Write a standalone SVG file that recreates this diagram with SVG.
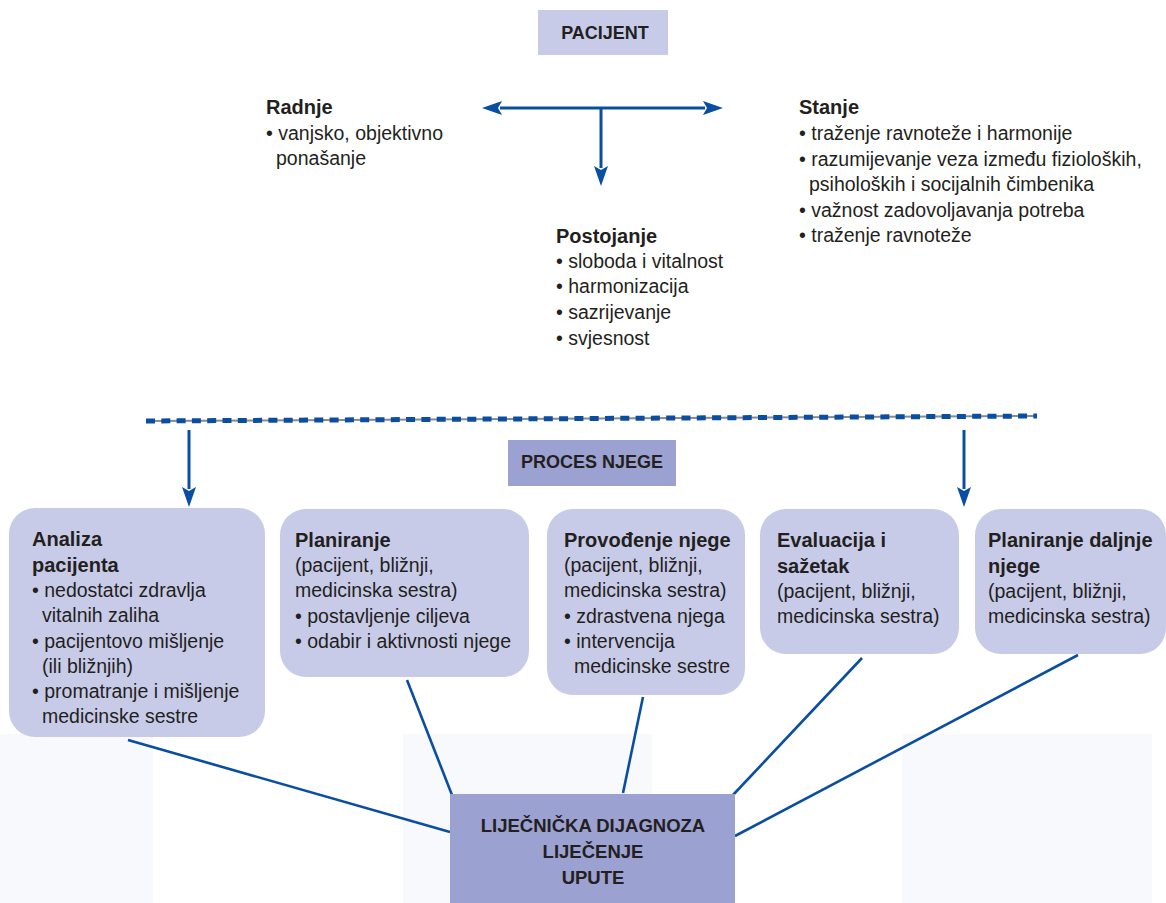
<svg xmlns="http://www.w3.org/2000/svg" width="1166" height="903" viewBox="0 0 1166 903">
<style>
  text { font-family: "Liberation Sans", Arial, sans-serif; fill: #231f20; }
  .t { font-size: 19.5px; }
  .b { font-size: 20px; font-weight: bold; }
  .h { font-size: 18px; font-weight: bold; text-anchor: middle; }
  .box { fill: #c8cbe8; }
  .dark { fill: #9ba1d1; }
  .faint { fill: #f8f9fc; }
  .arrow { stroke: #0a4ea2; stroke-width: 3; fill: none; }
  .conn { stroke: #0a4ea2; stroke-width: 2.6; fill: none; }
</style>
<defs>
  <marker id="ah" viewBox="0 0 20 14" refX="2" refY="7" markerWidth="20" markerHeight="14" markerUnits="userSpaceOnUse" orient="auto-start-reverse">
    <path d="M0,0 L20,7 L0,14 L4,7 Z" fill="#0a4ea2"/>
  </marker>
</defs>
<rect width="1166" height="903" fill="#ffffff"/>
<g id="background">
  <rect class="faint" x="0" y="734" width="153" height="169"/>
  <rect class="faint" x="403" y="734" width="249" height="169"/>
  <rect class="faint" x="902" y="734" width="250" height="169"/>
</g>
<g id="connectors">
  <line class="arrow" x1="500" y1="108" x2="705" y2="108" marker-start="url(#ah)" marker-end="url(#ah)"/>
  <line class="arrow" x1="601" y1="108" x2="601" y2="168" marker-end="url(#ah)"/>
  <line x1="146" y1="421" x2="1037" y2="416" stroke="#8a8a8a" stroke-width="2"/>
  <line x1="146" y1="421" x2="1037" y2="416" stroke="#0a4ea2" stroke-width="5" stroke-dasharray="9 6.3"/>
  <line class="arrow" x1="189" y1="430" x2="189" y2="489" marker-end="url(#ah)"/>
  <line class="arrow" x1="964" y1="430" x2="964" y2="489" marker-end="url(#ah)"/>
  <line class="conn" x1="128" y1="740" x2="450" y2="832"/>
  <line class="conn" x1="407" y1="680" x2="452" y2="795"/>
  <line class="conn" x1="643" y1="697" x2="623" y2="793"/>
  <line class="conn" x1="862" y1="658" x2="733" y2="795"/>
  <line class="conn" x1="1078" y1="655" x2="735" y2="836"/>
</g>
<g id="pacijent">
  <rect class="box" x="538" y="10" width="130" height="45"/>
  <text class="h" x="605" y="39">PACIJENT</text>
</g>
<g id="radnje">
  <text class="b" x="266" y="114">Radnje</text>
  <text class="t" x="266" y="140">• vanjsko, objektivno</text>
  <text class="t" x="276" y="165">ponašanje</text>
</g>
<g id="stanje">
  <text class="b" x="799" y="114">Stanje</text>
  <text class="t" x="799" y="140">• traženje ravnoteže i harmonije</text>
  <text class="t" x="799" y="166">• razumijevanje veza između fizioloških,</text>
  <text class="t" x="809" y="191">psiholoških i socijalnih čimbenika</text>
  <text class="t" x="799" y="217">• važnost zadovoljavanja potreba</text>
  <text class="t" x="799" y="242">• traženje ravnoteže</text>
</g>
<g id="postojanje">
  <text class="b" x="556" y="243">Postojanje</text>
  <text class="t" x="556" y="268">• sloboda i vitalnost</text>
  <text class="t" x="556" y="293">• harmonizacija</text>
  <text class="t" x="556" y="319">• sazrijevanje</text>
  <text class="t" x="556" y="345">• svjesnost</text>
</g>
<g id="proces-njege">
  <rect class="dark" x="508" y="440" width="168" height="46"/>
  <text class="h" x="592" y="468">PROCES NJEGE</text>
</g>
<g id="analiza">
  <rect class="box" x="9" y="508" width="256" height="229" rx="26"/>
  <text class="b" x="32" y="546">Analiza</text>
  <text class="b" x="32" y="572">pacijenta</text>
  <text class="t" x="32" y="597">• nedostatci zdravlja</text>
  <text class="t" x="42" y="622">vitalnih zaliha</text>
  <text class="t" x="32" y="648">• pacijentovo mišljenje</text>
  <text class="t" x="42" y="673">(ili bližnjih)</text>
  <text class="t" x="32" y="698">• promatranje i mišljenje</text>
  <text class="t" x="42" y="723">medicinske sestre</text>
</g>
<g id="planiranje">
  <rect class="box" x="280" y="509" width="249" height="168" rx="26"/>
  <text class="b" x="295" y="547">Planiranje</text>
  <text class="t" x="295" y="572">(pacijent, bližnji,</text>
  <text class="t" x="295" y="597">medicinska sestra)</text>
  <text class="t" x="295" y="623">• postavljenje ciljeva</text>
  <text class="t" x="295" y="648">• odabir i aktivnosti njege</text>
</g>
<g id="provodenje">
  <rect class="box" x="547" y="509" width="198" height="186" rx="26"/>
  <text class="b" x="564" y="547">Provođenje njege</text>
  <text class="t" x="564" y="572">(pacijent, bližnji,</text>
  <text class="t" x="564" y="597">medicinska sestra)</text>
  <text class="t" x="564" y="623">• zdrastvena njega</text>
  <text class="t" x="564" y="648">• intervencija</text>
  <text class="t" x="574" y="673">medicinske sestre</text>
</g>
<g id="evaluacija">
  <rect class="box" x="760" y="509" width="199" height="145" rx="26"/>
  <text class="b" x="777" y="547">Evaluacija i</text>
  <text class="b" x="777" y="573">sažetak</text>
  <text class="t" x="777" y="598">(pacijent, bližnji,</text>
  <text class="t" x="777" y="623">medicinska sestra)</text>
</g>
<g id="planiranje-daljnje">
  <rect class="box" x="975" y="509" width="191" height="145" rx="26"/>
  <text class="b" x="988" y="547">Planiranje daljnje</text>
  <text class="b" x="988" y="573">njege</text>
  <text class="t" x="988" y="598">(pacijent, bližnji,</text>
  <text class="t" x="988" y="623">medicinska sestra)</text>
</g>
<g id="dijagnoza">
  <rect class="dark" x="450" y="794" width="285" height="109"/>
  <text class="h" x="593" y="832" style="font-size:18.5px">LIJEČNIČKA DIJAGNOZA</text>
  <text class="h" x="593" y="858" style="font-size:18.5px">LIJEČENJE</text>
  <text class="h" x="593" y="884" style="font-size:18.5px">UPUTE</text>
</g>
</svg>
